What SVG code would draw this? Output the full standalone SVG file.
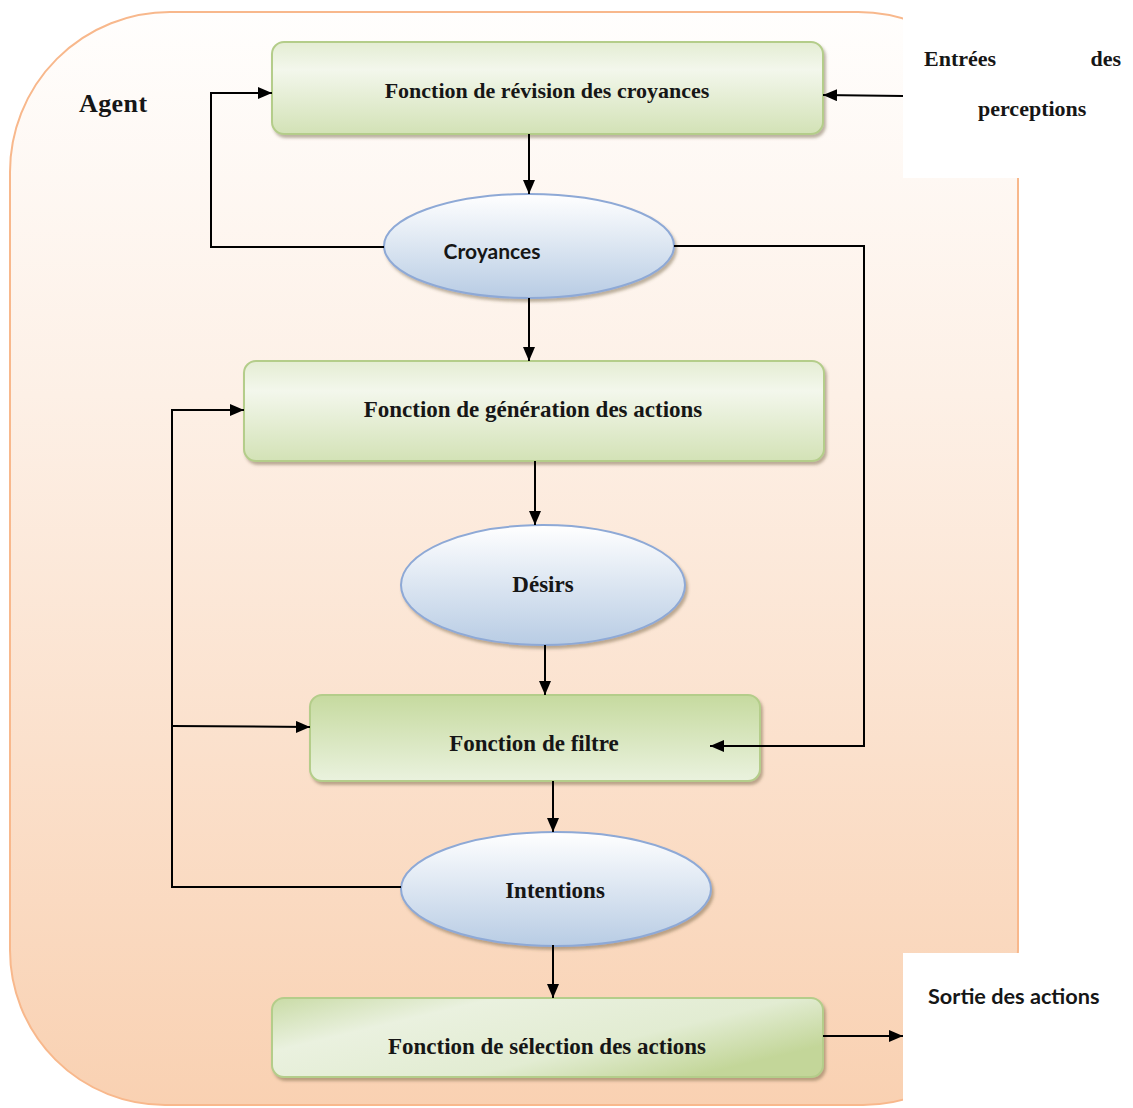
<svg xmlns="http://www.w3.org/2000/svg" width="1133" height="1108" viewBox="0 0 1133 1108">
  <defs>
    <linearGradient id="agentFill" x1="0" y1="0" x2="0" y2="1">
      <stop offset="0" stop-color="#fffefd"/>
      <stop offset="0.35" stop-color="#fdf0e6"/>
      <stop offset="1" stop-color="#f9d1b2"/>
    </linearGradient>
    <linearGradient id="boxFill" x1="0" y1="0" x2="0" y2="1">
      <stop offset="0" stop-color="#e4edd3"/>
      <stop offset="0.3" stop-color="#f3f7ec"/>
      <stop offset="1" stop-color="#d3e2b6"/>
    </linearGradient>
    <linearGradient id="boxFillUp" x1="0" y1="0" x2="0" y2="1">
      <stop offset="0" stop-color="#c6da9f"/>
      <stop offset="1" stop-color="#eaf2de"/>
    </linearGradient>
    <linearGradient id="boxFillDiag" x1="0" y1="0" x2="1" y2="0.6">
      <stop offset="0" stop-color="#c9dba6"/>
      <stop offset="0.3" stop-color="#eaf1df"/>
      <stop offset="0.7" stop-color="#e2ecd2"/>
      <stop offset="1" stop-color="#c3d699"/>
    </linearGradient>
    <linearGradient id="ovalFill" x1="0" y1="0" x2="0" y2="1">
      <stop offset="0" stop-color="#ffffff"/>
      <stop offset="1" stop-color="#b8cce4"/>
    </linearGradient>
    <filter id="shadow" x="-10%" y="-10%" width="125%" height="135%">
      <feDropShadow dx="2" dy="3" stdDeviation="1.5" flood-color="#6b5a3a" flood-opacity="0.45"/>
    </filter>
    <marker id="arrow" viewBox="0 0 14 12" refX="14" refY="6" markerWidth="14" markerHeight="12" markerUnits="userSpaceOnUse" orient="auto">
      <path d="M0,0 L14,6 L0,12 Z" fill="#000"/>
    </marker>
    <style>
      .box { stroke: #b4cd8a; stroke-width: 2; filter: url(#shadow); }
      .oval { fill: url(#ovalFill); stroke: #8ea9d6; stroke-width: 2; filter: url(#shadow); }
      .serif { font-family: "Liberation Serif", "Times New Roman", serif; font-weight: bold; font-size: 23px; fill: #161616; }
      .sans { font-family: Lato, "Liberation Sans", sans-serif; font-weight: bold; font-size: 21px; fill: #161616; }
      .mid { text-anchor: middle; }
      .link { fill: none; stroke: #000; stroke-width: 2; }
    </style>
  </defs>

  <rect width="1133" height="1108" fill="#ffffff"/>

  <!-- agent frame -->
  <g id="agent">
    <path d="M170,12 H858 A160,160 0 0 1 1018,172 V950 A155,155 0 0 1 863,1105 H165 A155,155 0 0 1 10,950 V172 A160,160 0 0 1 170,12 Z" fill="url(#agentFill)" stroke="#f8b88c" stroke-width="2"/>
    <text class="serif" x="79" y="112" style="font-size:26px; letter-spacing:0.4px">Agent</text>
  </g>

  <!-- external label areas -->
  <g id="inputs">
    <rect x="903" y="0" width="230" height="178" fill="#ffffff"/>
    <text class="serif" x="924" y="66" style="font-size:22px">Entrées</text>
    <text class="serif" x="1121" y="66" text-anchor="end" style="font-size:22px">des</text>
    <text class="serif" x="978" y="116" style="font-size:22px">perceptions</text>
  </g>
  <g id="outputs">
    <rect x="903" y="953" width="230" height="155" fill="#ffffff"/>
    <text class="sans" x="928" y="1004" style="font-size:21.7px">Sortie des actions</text>
  </g>

  <!-- nodes -->
  <g id="revision">
    <rect class="box" x="272" y="42" width="551" height="92" rx="12" fill="url(#boxFill)"/>
    <text class="serif mid" x="547" y="98" style="font-size:22px">Fonction de révision des croyances</text>
  </g>
  <g id="croyances">
    <ellipse class="oval" cx="529" cy="246" rx="145" ry="52"/>
    <text class="sans mid" x="492" y="259">Croyances</text>
  </g>
  <g id="generation">
    <rect class="box" x="244" y="361" width="580" height="100" rx="12" fill="url(#boxFill)"/>
    <text class="serif mid" x="533" y="417">Fonction de génération des actions</text>
  </g>
  <g id="desirs">
    <ellipse class="oval" cx="543" cy="585" rx="142" ry="60"/>
    <text class="serif mid" x="543" y="592">Désirs</text>
  </g>
  <g id="filtre">
    <rect class="box" x="310" y="695" width="450" height="86" rx="12" fill="url(#boxFillUp)"/>
    <text class="serif mid" x="534" y="751">Fonction de filtre</text>
  </g>
  <g id="intentions">
    <ellipse class="oval" cx="556" cy="889" rx="155" ry="57"/>
    <text class="serif mid" x="555" y="898">Intentions</text>
  </g>
  <g id="selection">
    <rect class="box" x="272" y="998" width="551" height="79" rx="12" fill="url(#boxFillDiag)"/>
    <text class="serif mid" x="547" y="1054">Fonction de sélection des actions</text>
  </g>

  <!-- connectors, drawn above the nodes -->
  <g id="connectors">
    <path class="link" d="M903,96 L823,95" marker-end="url(#arrow)"/>
    <path class="link" d="M384,247 H211 V93 H272" marker-end="url(#arrow)"/>
    <path class="link" d="M529,134 V194" marker-end="url(#arrow)"/>
    <path class="link" d="M529,298 V361" marker-end="url(#arrow)"/>
    <path class="link" d="M535,461 V525" marker-end="url(#arrow)"/>
    <path class="link" d="M545,645 V695" marker-end="url(#arrow)"/>
    <path class="link" d="M674,246 H864 V746 H710" marker-end="url(#arrow)"/>
    <path class="link" d="M553,781 V832" marker-end="url(#arrow)"/>
    <path class="link" d="M401,887 H172 V410 H244" marker-end="url(#arrow)"/>
    <path class="link" d="M172,726 L310,727" marker-end="url(#arrow)"/>
    <path class="link" d="M553,945 V998" marker-end="url(#arrow)"/>
    <path class="link" d="M823,1036 H903" marker-end="url(#arrow)"/>
  </g>
</svg>
